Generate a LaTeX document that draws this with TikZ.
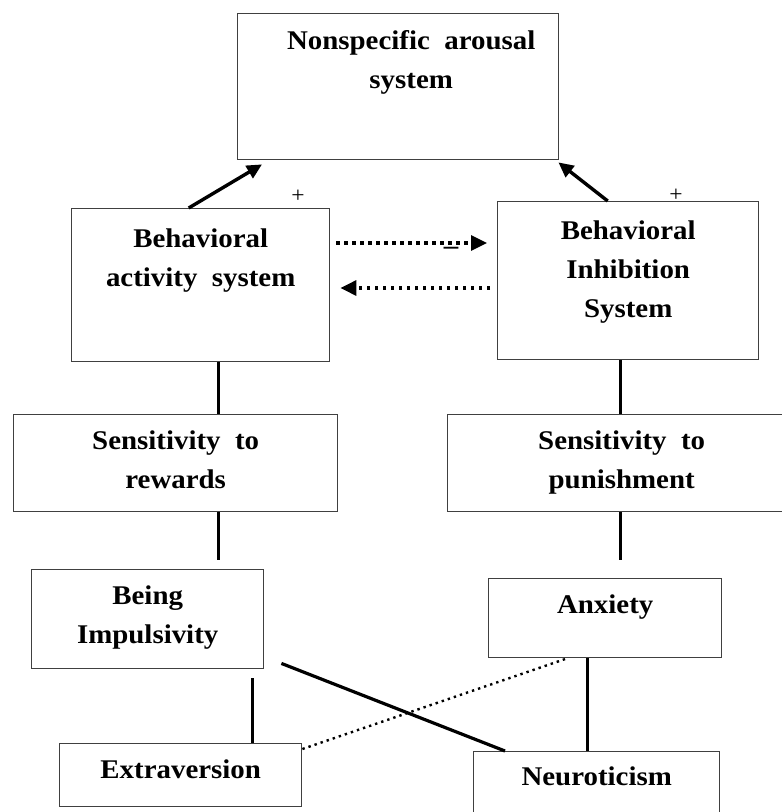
\documentclass[tikz,border=0pt]{standalone}
\usepackage{fontspec}
\setmainfont{Liberation Serif}[FakeStretch=1.07, WordSpace=2]
\usetikzlibrary{arrows.meta,positioning}
\tikzset{box/.style={draw=black!75, line width=1.4pt, anchor=north west, inner sep=0pt}}
\tikzset{txt/.style={font=\fontsize{27}{39}\selectfont\bfseries, align=center, anchor=base, inner sep=0pt}}

\begin{document}
\begin{tikzpicture}[x=1pt, y=-1pt,
    link/.style={line width=3.2pt},
    push/.style={line width=3.4pt, -{Triangle[length=15pt,width=14pt]}},
    inhib/.style={line width=3.2pt, dash pattern=on 3.2pt off 4.8pt, -{Triangle[length=16pt,width=15pt]}},
    dotline/.style={line width=2.4pt, dash pattern=on 2.4pt off 4pt},
    sign/.style={font=\fontsize{22}{22}\selectfont, inner sep=0pt}]
        \useasboundingbox (0,0) rectangle (782,812);
        \clip (0,0) rectangle (782,812);

        % Cajas
        \foreach \n/\x/\y/\w/\h in {arousal/237/13/321/146, bas/71/208/258/153, bis/497/201/261/158,
                                    rewards/13/414/324/97, punish/447/414/348/97,
                                    impuls/31/569/232/99, anxiety/488/578/233/79,
                                    extra/59/743/242/63, neuro/473/751/246/100}
            \node[box, minimum width=\w pt, minimum height=\h pt] (\n) at (\x,\y) {};

        % Textos (base = ultima linea)
        \node[txt] (arousal-t) at ([xshift=13pt,yshift=-75pt]arousal.north) {Nonspecific arousal\\system};
        \node[txt] (bas-t) at ([yshift=-78pt]bas.north) {Behavioral\\activity system};
        \node[txt] (bis-t) at ([yshift=-116pt]bis.north) {Behavioral\\Inhibition\\System};
        \node[txt] (rewards-t) at ([yshift=-74pt]rewards.north) {Sensitivity to\\rewards};
        \node[txt] (punish-t) at ([yshift=-74pt]punish.north) {Sensitivity to\\punishment};
        \node[txt] (impuls-t) at ([yshift=-74pt]impuls.north) {Being\\Impulsivity};
        \node[txt] (anxiety-t) at ([yshift=-35pt]anxiety.north) {Anxiety};
        \node[txt] (extra-t) at ([yshift=-35pt]extra.north) {Extraversion};
        \node[txt] (neuro-t) at ([yshift=-34pt]neuro.north) {Neuroticism};

        % Signos
        \node[sign] (plus-l) at (298,196) {+};
        \node[sign] (plus-r) at (676,195) {+};
        \node[txt, anchor=center] (minus) at (451,251) {--};

        % Flechas
        \draw[push] ([xshift=-12pt]bas.north) -- ([xshift=25pt,yshift=-4pt]arousal.south west);
        \draw[push] ([xshift=-20.5pt]bis.north) -- ([xshift=-1pt,yshift=-2pt]arousal.south east);
        \draw[inhib] ([xshift=6pt,yshift=-35pt]bas.north east) -- ([xshift=-10pt,yshift=-42pt]bis.north west);
        \draw[inhib] ([xshift=-7pt,yshift=-87pt]bis.north west) -- ([xshift=10pt,yshift=-80pt]bas.north east);

        % Conexiones
        \draw[link] ([xshift=18pt]bas.south) -- ([xshift=18pt]bas.south |- rewards.north);
        \draw[link] ([xshift=-7.5pt]bis.south) -- ([xshift=-7.5pt]bis.south |- punish.north);
        \draw[link] ([xshift=43pt]rewards.south) -- ([xshift=43pt,yshift=9pt]rewards.south |- impuls.north);
        \draw[link] ([xshift=-1pt]punish.south) -- ([xshift=-1pt,yshift=18pt]punish.south |- anxiety.north);
        \draw[link] ([xshift=72pt,yshift=-9pt]extra.north |- impuls.south) -- ([xshift=72pt]extra.north);
        \draw[link] ([xshift=-18pt]anxiety.south) -- ([xshift=-18pt]anxiety.south |- neuro.north);
        \draw[link] ([xshift=17pt,yshift=6pt]impuls.south east) -- ([xshift=32pt]neuro.north west);
        \draw[dotline] ([yshift=-6pt]extra.north east) -- ([xshift=79pt]anxiety.south west);
    \end{tikzpicture}
\end{document}
